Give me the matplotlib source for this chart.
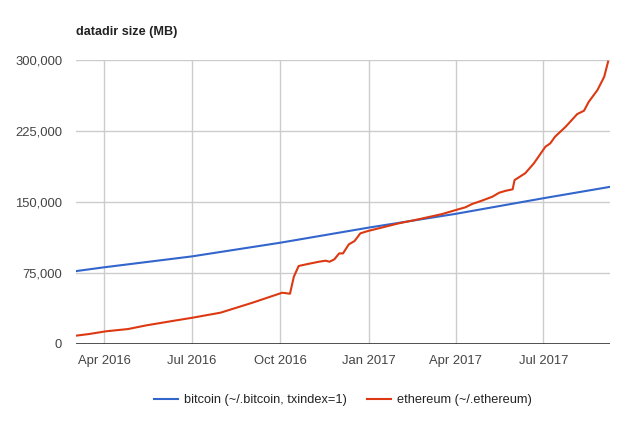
import numpy as np
import pandas as pd
import matplotlib
matplotlib.use('Agg')
import matplotlib.pyplot as plt
import matplotlib.dates as mdates
from matplotlib.ticker import FuncFormatter

plt.rcParams['font.family'] = ['Liberation Sans', 'DejaVu Sans']

# bitcoin datadir size (MB)
btc_dates = ['2016-03-03', '2016-04-01', '2016-07-01', '2016-10-01',
             '2017-01-01', '2017-04-01', '2017-07-01', '2017-09-08']
btc_sizes = [77000, 81000, 92500, 107000, 123000, 137500, 154000, 166000]

# ethereum datadir size (MB)
eth_dates = ['2016-03-03', '2016-03-17', '2016-04-03', '2016-04-26', '2016-05-15',
             '2016-06-11', '2016-07-02', '2016-07-31', '2016-09-02', '2016-10-03',
             '2016-10-11', '2016-10-15', '2016-10-20', '2016-10-28', '2016-11-10',
             '2016-11-17', '2016-11-21', '2016-11-26', '2016-12-01', '2016-12-05',
             '2016-12-11', '2016-12-17', '2016-12-23', '2016-12-31', '2017-02-01',
             '2017-02-18', '2017-03-18', '2017-04-01', '2017-04-11', '2017-04-18',
             '2017-04-28', '2017-05-09', '2017-05-16', '2017-05-23', '2017-05-30',
             '2017-06-01', '2017-06-12', '2017-06-21', '2017-07-03', '2017-07-08',
             '2017-07-13', '2017-07-24', '2017-08-05', '2017-08-12', '2017-08-17',
             '2017-08-26', '2017-09-02', '2017-09-06']
eth_sizes = [8800, 10600, 13400, 15800, 19700,
             24300, 27800, 33100, 43600, 54200,
             53100, 71100, 82400, 84200, 86900,
             88000, 86900, 89400, 95700, 95700,
             105200, 108800, 116900, 119400, 127500,
             131000, 137300, 141500, 144400, 147900,
             151400, 155600, 159800, 161900, 163400,
             173200, 180300, 190800, 208400, 211900,
             219000, 229500, 242900, 246400, 255900,
             268300, 282300, 298200]

y_ticks = [0, 75000, 150000, 225000, 300000]
x_ticks = ['2016-04-01', '2016-07-01', '2016-10-01', '2017-01-01', '2017-04-01', '2017-07-01']

fig = plt.figure(figsize=(6.4, 4.32), dpi=100)
ax = fig.add_axes([76 / 640, 88 / 432, 534 / 640, 284 / 432])

ax.plot(pd.to_datetime(btc_dates), btc_sizes, color='#3366CC', lw=1.5,
        label='bitcoin (~/.bitcoin, txindex=1)', zorder=3)
ax.plot(pd.to_datetime(eth_dates), eth_sizes, color='#DC3912', lw=1.5,
        label='ethereum (~/.ethereum)', zorder=3)

ax.set_xlim(pd.Timestamp('2016-03-03'), pd.Timestamp('2017-09-08'))
ax.set_ylim(0, 300000)
ax.set_yticks(y_ticks)
ax.set_xticks(pd.to_datetime(x_ticks))
ax.xaxis.set_major_formatter(mdates.DateFormatter('%b %Y'))
ax.yaxis.set_major_formatter(FuncFormatter(lambda v, p: f'{int(v):,}'))

for s in ax.spines.values():
    s.set_visible(False)
ax.grid(True, color='#cccccc', lw=1)
ax.set_axisbelow(True)
ax.axhline(0, color='#333333', lw=1.2, zorder=2)
ax.tick_params(length=0, labelsize=9.4, colors='#444444')
ax.tick_params(axis='y', pad=10)
ax.tick_params(axis='x', pad=8)

fig.text(76 / 640, 1 - 32 / 432, 'datadir size (MB)', fontsize=9.1,
         fontweight='bold', color='#222222', va='center', ha='left')

leg = fig.legend(loc='center', bbox_to_anchor=(343 / 640, 32 / 432), ncol=2,
                 frameon=False, fontsize=9.2, handlelength=1.87, columnspacing=1.6,
                 handletextpad=0.47)
for t in leg.get_texts():
    t.set_color('#222222')

fig.savefig('out.png', dpi=100)
